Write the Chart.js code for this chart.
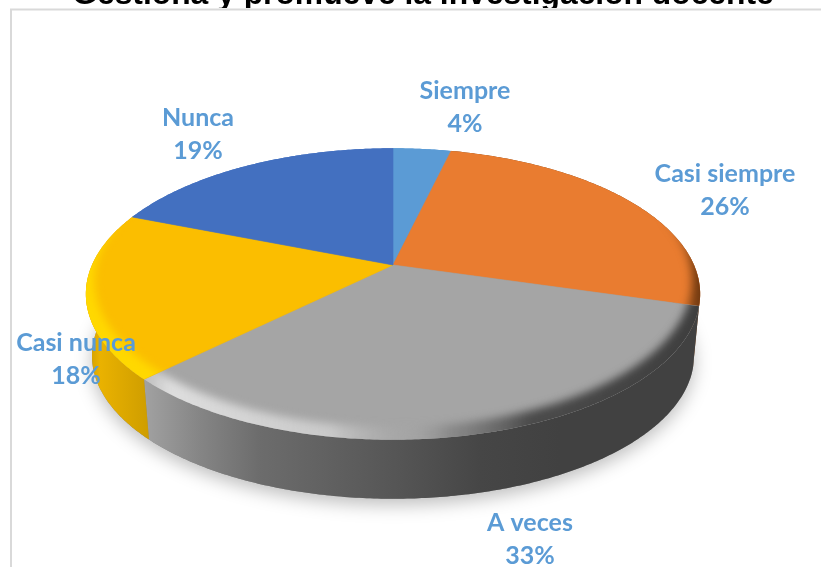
<!DOCTYPE html>
<html><head><meta charset="utf-8">
<style>html,body{margin:0;padding:0;background:#fff;overflow:hidden}canvas{display:block}</style>
<script src="https://cdn.jsdelivr.net/npm/chart.js@4/dist/chart.umd.js"></script>
</head><body>
<div style="width:821px;height:567px"><canvas id="c" width="821" height="567"></canvas></div>
<script>
const titleText = "Gestiona y promueve la investigación docente";
const categories = ["Siempre", "Casi siempre", "A veces", "Casi nunca", "Nunca"];
const values = [3.7, 25.8, 33.1, 18.4, 19.0];
const colors = ["#5B9BD5", "#E97C30", "#A5A5A5", "#FBBE00", "#4370C0"];
const labelSpots = [[465,91],[725,174],[530,523],[76,343],[198,118]];

// Perspective of the tilted disc
const TILT = 0.465, PERSP = 0.199, WALL_SCALE = 0.98, WALL_DROP = 62.5;
function project(el, theta, scale, dy, xs){
  const s = Math.sin(theta), c = Math.cos(theta), w = 1 / (1 + PERSP * c), R = el.outerRadius;
  return [el.x + R * (xs||1) * (scale||1) * s * w, el.y + (dy||0) + R * TILT * (scale||1) * (-c) * w];
}
function angles(el){ return [el.startAngle + Math.PI/2, el.endAngle + Math.PI/2]; }
function trace(ctx, el, a, b, scale, dy, xs, first){
  const n = Math.max(2, Math.ceil(Math.abs(b-a) / 0.01));
  for (let i = 0; i <= n; i++){
    const p = project(el, a + (b-a)*i/n, scale, dy, xs);
    if (i === 0 && first) ctx.moveTo(p[0], p[1]); else ctx.lineTo(p[0], p[1]);
  }
}
function hGrad(ctx, stops){
  const g = ctx.createLinearGradient(0,0,821,0);
  stops.forEach(s => g.addColorStop(s[0]/821, s[1]));
  return g;
}
const wallStops = {
  1: [[640,"#7a3f12"],[700,"#8a4a18"]],
  2: [[143,"#a2a2a2"],[200,"#858585"],[260,"#6c6c6c"],[400,"#555555"],[480,"#464646"],[560,"#414141"],[710,"#414141"]],
  3: [[85,"#c89800"],[100,"#eab200"],[147,"#cf9e00"]]
};
const rimStops = {
  1: [[640,"rgba(130,70,20,0)"],[680,"rgba(130,70,20,.55)"],[700,"rgba(110,55,15,1)"]],
  2: [[143,"rgba(190,190,190,.9)"],[170,"rgba(222,222,222,1)"],[330,"rgba(205,205,205,.9)"],[410,"rgba(165,165,165,.2)"],[450,"rgba(120,120,120,.6)"],[530,"rgba(70,70,70,.95)"],[700,"rgba(62,62,62,1)"]],
  3: [[85,"rgba(255,216,0,1)"],[147,"rgba(255,216,0,1)"]]
};

Chart.ArcElement.prototype.draw = function(ctx){
  const [a, b] = angles(this);
  ctx.save();
  // hide hairline seams between neighbouring slices
  ctx.strokeStyle = this.options.backgroundColor;
  ctx.lineWidth = 0.6;
  const p0 = project(this, a), p1 = project(this, b);
  ctx.beginPath();
  ctx.moveTo(p0[0], p0[1]); ctx.lineTo(this.x, this.y); ctx.lineTo(p1[0], p1[1]);
  ctx.stroke();
  ctx.beginPath();
  ctx.moveTo(this.x, this.y);
  trace(ctx, this, a, b, 1, 0, 1, false);
  ctx.closePath();
  ctx.fillStyle = this.options.backgroundColor;
  ctx.fill();
  ctx.clip();
  const idx = colors.indexOf(this.options.backgroundColor);
  if (rimStops[idx]){
    ctx.filter = "blur(4px)";
    ctx.beginPath();
    trace(ctx, this, a-0.1, b+0.1, 1.04, 4, 1, true);
    trace(ctx, this, b+0.1, a-0.1, 1, -13, 0.972, false);
    ctx.closePath();
    ctx.fillStyle = hGrad(ctx, rimStops[idx]);
    ctx.fill();
    ctx.filter = "none";
  }
  ctx.restore();
};

const disc3d = {
  id: "disc3d",
  beforeDraw(chart){
    const ctx = chart.ctx;
    ctx.save();
    ctx.fillStyle = "#fff";
    ctx.fillRect(0,0,821,567);
    ctx.beginPath(); ctx.rect(0,0,821,8); ctx.clip();
    ctx.fillStyle = "#000";
    ctx.font = "bold 31.8px 'Liberation Sans'";
    ctx.textAlign = "center";
    ctx.textBaseline = "alphabetic";
    ctx.fillText(titleText, 423, 4);
    ctx.restore();
    ctx.save();
    ctx.strokeStyle = "#d9d9d9";
    ctx.lineWidth = 2;
    ctx.beginPath();
    ctx.moveTo(11,568); ctx.lineTo(11,9.5); ctx.lineTo(822,9.5);
    ctx.stroke();
    ctx.restore();
  },
  beforeDatasetsDraw(chart){
    const ctx = chart.ctx, arcs = chart.getDatasetMeta(0).data;
    // soft shadow under the disc
    ctx.save();
    ctx.shadowColor = "rgba(0,0,0,.26)";
    ctx.shadowBlur = 18;
    ctx.shadowOffsetY = 6;
    ctx.fillStyle = "#888";
    ctx.beginPath();
    arcs.forEach((el,i) => { const [a,b] = angles(el); trace(ctx, el, a, b, WALL_SCALE, WALL_DROP, 1, i===0); });
    ctx.closePath();
    ctx.fill();
    ctx.restore();
    // side walls
    arcs.forEach((el,i) => {
      const [a,b] = angles(el);
      ctx.save();
      ctx.beginPath();
      trace(ctx, el, a, b, 1, 0, 1, true);
      trace(ctx, el, b, a, WALL_SCALE, WALL_DROP, 1, false);
      ctx.closePath();
      ctx.fillStyle = wallStops[i] ? hGrad(ctx, wallStops[i]) : el.options.backgroundColor;
      ctx.fill();
      ctx.restore();
    });
  },
  afterDatasetsDraw(chart){
    const ctx = chart.ctx;
    ctx.save();
    ctx.fillStyle = "#5B9BD5";
    ctx.font = "bold 25px Lato";
    ctx.textAlign = "center";
    ctx.textBaseline = "middle";
    const total = values.reduce((s,v)=>s+v,0);
    categories.forEach((name,i) => {
      const [x,y] = labelSpots[i];
      ctx.fillText(name, x, y);
      ctx.fillText(Math.round(values[i]/total*100) + "%", x, y + 33);
    });
    ctx.restore();
  }
};

new Chart(document.getElementById("c"), {
  type: "pie",
  data: { labels: categories, datasets: [{ data: values, backgroundColor: colors, borderWidth: 0, radius: 301 }] },
  options: {
    responsive: false,
    animation: false,
    layout: { padding: { right: 35, bottom: 37 } },
    plugins: { legend: { display: false }, tooltip: { enabled: false }, title: { display: false } }
  },
  plugins: [disc3d]
});
</script>
</body></html>
